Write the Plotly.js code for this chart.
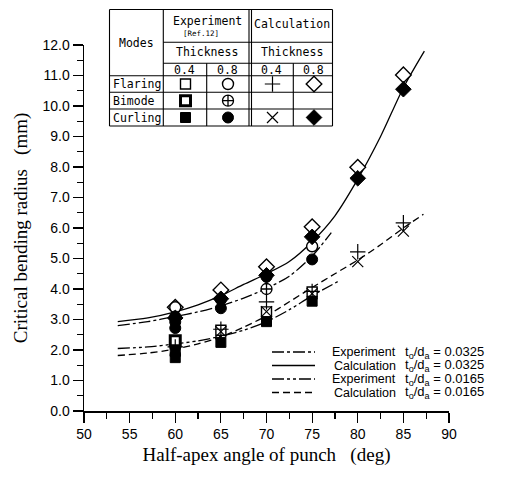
<!DOCTYPE html>
<html><head><meta charset="utf-8">
<script src="https://cdn.plot.ly/plotly-3.0.1.min.js"></script>
<style>html,body{margin:0;padding:0;background:#fff}</style>
</head><body><div id="chart" style="width:506px;height:477px"></div>
<script>
// ---------------- DATA ----------------
// Curves
const xCalc0325 = [53.7, 57, 60, 62.5, 65, 67.5, 70, 72.5, 75, 77.5, 80, 82.5, 85, 87.3];
const yCalc0325 = [2.93, 3.05, 3.25, 3.48, 3.78, 4.15, 4.5, 4.9, 5.55, 6.4, 7.6, 9.0, 10.6, 11.8];
const xExp0325 = [53.7, 57, 60, 62.5, 65, 67.5, 70, 72.5, 75, 77.1];
const yExp0325 = [2.8, 2.93, 3.1, 3.25, 3.45, 3.7, 4.02, 4.42, 5.08, 5.85];
const xExp0165 = [53.7, 57, 60, 62.5, 65, 67.5, 70, 72.5, 75, 77.8];
const yExp0165 = [2.05, 2.1, 2.2, 2.3, 2.45, 2.65, 2.93, 3.32, 3.78, 4.24];
const xCalc0165 = [53.7, 57, 60, 62.5, 65, 67.5, 70, 72.5, 75, 77.5, 80, 82.5, 85, 87.2];
const yCalc0165 = [1.82, 1.9, 2.03, 2.2, 2.43, 2.75, 3.12, 3.58, 4.05, 4.5, 4.95, 5.45, 6.0, 6.45];

// Experiment points
const xExpFlaring04 = [60, 65, 70, 75];
const yExpFlaring04 = [2.2, 2.65, 3.25, 3.9];
const xExpFlaring08 = [60, 75];
const yExpFlaring08 = [3.4, 5.4];
const xExpBimode04 = [60];
const yExpBimode04 = [2.3];
const xExpBimode08 = [70];
const yExpBimode08 = [4.0];
const xExpCurling04 = [60, 60, 65, 70, 75];
const yExpCurling04 = [1.75, 1.95, 2.25, 2.93, 3.6];
const xExpCurling08 = [60, 60, 60, 65, 65, 70, 75];
const yExpCurling08 = [2.72, 2.92, 3.1, 3.37, 3.65, 4.4, 4.97];

// Calculation points
const xCalcFlaring04 = [60, 65, 70, 75, 80, 85];
const yCalcFlaring04 = [2.1, 2.68, 3.58, 3.92, 5.22, 6.17];
const xCalcFlaring08 = [60, 65, 70, 75, 80, 85];
const yCalcFlaring08 = [3.4, 3.97, 4.73, 6.04, 7.99, 11.02];
const xCalcCurling04 = [60, 65, 70, 75, 80, 85];
const yCalcCurling04 = [2.0, 2.6, 3.26, 3.85, 4.9, 5.9];
const xCalcCurling08 = [60, 65, 70, 75, 80, 85];
const yCalcCurling08 = [3.05, 3.68, 4.45, 5.71, 7.63, 10.55];

// Text
const xTitle = 'Half-apex angle of punch\u00A0\u00A0\u00A0(deg)';
const yTitle = 'Critical bending radius\u00A0\u00A0\u00A0(mm)';
const legendNames = ['Experiment', 'Calculation', 'Experiment', 'Calculation'];
const legendRatios = ['0.0325', '0.0325', '0.0165', '0.0165'];
const ratioLabel = 't<sub>o</sub>/d<sub>a</sub> = ';
const tableModes = ['Flaring', 'Bimode', 'Curling'];
const tableThick = ['0.4', '0.8', '0.4', '0.8'];

// ---------------- LAYOUT HELPERS ----------------
const L = 84, R = 449, T = 45, B = 411;
const px = x => (x - L) / (R - L);
const py = y => (B - y) / (B - T);

const dashExp0325 = '12px,3px,3px,3px';
const dashExp0165 = '12px,3px,3px,3px,3px,3px';
const dashCalc0165 = '7px,4px';

const traces = [];
function curve(x, y, dash) {
  traces.push({x, y, type: 'scatter', mode: 'lines', line: {color: 'black', width: 1.3, dash, shape: 'spline', smoothing: 0.8}, hoverinfo: 'skip', showlegend: false});
}
curve(xCalc0325, yCalc0325, 'solid');
curve(xExp0325, yExp0325, dashExp0325);
curve(xExp0165, yExp0165, dashExp0165);
curve(xCalc0165, yCalc0165, dashCalc0165);

const sty = {
  sqOpen: {symbol: 'square', size: 10, color: 'white', line: {color: 'black', width: 1.4}},
  ciOpen: {symbol: 'circle', size: 11, color: 'white', line: {color: 'black', width: 1.4}},
  sqBi:   {symbol: 'square', size: 10, color: 'white', line: {color: 'black', width: 3}},
  ciBi:   {symbol: 'circle-cross', size: 11, color: 'white', line: {color: 'black', width: 1.3}},
  sqFill: {symbol: 'square', size: 10, color: 'black', line: {color: 'black', width: 1}},
  ciFill: {symbol: 'circle', size: 11, color: 'black', line: {color: 'black', width: 1}},
  plus:   {symbol: 'cross-thin-open', size: 11, color: 'black', line: {color: 'black', width: 1.2}},
  dmOpen: {symbol: 'diamond', size: 12, color: 'white', line: {color: 'black', width: 1.4}},
  cross:  {symbol: 'x-thin-open', size: 11, color: 'black', line: {color: 'black', width: 1.2}},
  dmFill: {symbol: 'diamond', size: 12, color: 'black', line: {color: 'black', width: 1}}
};
function pts(x, y, m, xa, ya) {
  traces.push({x, y, type: 'scatter', mode: 'markers', marker: m, xaxis: xa || 'x', yaxis: ya || 'y', hoverinfo: 'skip', showlegend: false, cliponaxis: false});
}
pts(xCalcFlaring08, yCalcFlaring08, sty.dmOpen);
pts(xExpFlaring08, yExpFlaring08, sty.ciOpen);
pts(xExpCurling08, yExpCurling08, sty.ciFill);
pts(xCalcCurling08, yCalcCurling08, sty.dmFill);
pts(xExpBimode08, yExpBimode08, sty.ciBi);
pts(xExpFlaring04, yExpFlaring04, sty.sqOpen);
pts(xExpCurling04, yExpCurling04, sty.sqFill);
pts(xExpBimode04, yExpBimode04, sty.sqBi);
pts(xCalcFlaring04, yCalcFlaring04, sty.plus);
pts(xCalcCurling04, yCalcCurling04, sty.cross);

// ---------------- TABLE (key) ----------------
const colX = [185.5, 228, 272.5, 314];
const rowY = [84, 100.7, 117.5];
const tableKeys = [
  [sty.sqOpen, sty.ciOpen, sty.plus, sty.dmOpen],
  [sty.sqBi, sty.ciBi, null, null],
  [sty.sqFill, sty.ciFill, sty.cross, sty.dmFill]
];
tableKeys.forEach((row, r) => row.forEach((m, c) => {
  if (m) pts([colX[c]], [rowY[r]], m, 'x2', 'y2');
}));

const shapes = [];
function seg(x0, y0, x1, y1, w, dash) {
  shapes.push({type: 'line', xref: 'paper', yref: 'paper', x0: px(x0), x1: px(x1), y0: py(y0), y1: py(y1), line: {color: 'black', width: w || 1.1, dash: dash || 'solid'}});
}
const tL = 109.5, tR = 332.5, tT = 9.5, tB = 126;
seg(tL, tT, tR, tT); seg(tL, tB, tR, tB); seg(tL, tT, tL, tB); seg(tR, tT, tR, tB);
seg(163.3, 42.3, tR, 42.3); seg(163.3, 63.3, tR, 63.3);
seg(tL, 75.7, tR, 75.7); seg(tL, 92.3, tR, 92.3); seg(tL, 109, tR, 109);
seg(163.3, tT, 163.3, tB);
seg(206.7, 63.3, 206.7, tB);
seg(249, tT, 249, tB); seg(251.5, tT, 251.5, tB);
seg(293.3, 63.3, 293.3, tB);

const annotations = [];
const tFont = {family: 'DejaVu Sans Mono', size: 11.5, color: 'black'};
function txt(x, y, text, font, xanchor) {
  annotations.push({xref: 'paper', yref: 'paper', x: px(x), y: py(y), text, showarrow: false, font: font || tFont, xanchor: xanchor || 'center', yanchor: 'middle', borderpad: 0});
}
txt(136.5, 42.7, 'Modes');
txt(207, 21, 'Experiment');
txt(201, 33.5, '[Ref.12]', {family: 'DejaVu Sans Mono', size: 7.5, color: 'black'});
txt(292, 24, 'Calculation');
txt(207, 52, 'Thickness');
txt(292, 52, 'Thickness');
tableThick.forEach((t, i) => txt(colX[i] - 1, 69.5, t));
tableModes.forEach((t, i) => txt(112, rowY[i], t, tFont, 'left'));

// ---------------- LINE LEGEND ----------------
const legY = [352, 365.5, 379, 392.5];
const legDash = [dashExp0325, 'solid', dashExp0165, dashCalc0165];
const lFont = {family: 'Liberation Sans', size: 12.5, color: 'black'};
const rFont = {family: 'Liberation Sans', size: 13, color: 'black'};
legY.forEach((y, i) => {
  seg(272, y, 315, y, 1.3, legDash[i]);
  txt(397, y, legendNames[i], lFont, 'right');
  txt(404, y, ratioLabel + legendRatios[i], rFont, 'left');
});

const layout = {
  width: 506, height: 477,
  margin: {l: L, r: 506 - R, t: T, b: 477 - B, pad: 0},
  paper_bgcolor: 'white', plot_bgcolor: 'white',
  showlegend: false,
  font: {family: 'Liberation Sans', color: 'black'},
  xaxis: {
    range: [50, 90], dtick: 5, tick0: 50, ticks: 'outside', ticklen: 10, tickwidth: 1.2, tickcolor: 'black',
    minor: {dtick: 2.5, ticks: 'outside', ticklen: 6, tickwidth: 1.2, tickcolor: 'black', showgrid: false},
    showline: true, linewidth: 1.5, linecolor: 'black', showgrid: false, zeroline: false,
    tickfont: {family: 'Liberation Sans', size: 14, color: 'black'},
    title: {text: xTitle, font: {family: 'Liberation Serif', size: 19, color: 'black'}, standoff: 6}
  },
  yaxis: {
    range: [0, 12], dtick: 1, tick0: 0, tickformat: '.1f', ticks: 'outside', ticklen: 10, tickwidth: 1.2, tickcolor: 'black',
    minor: {dtick: 0.5, ticks: 'outside', ticklen: 6, tickwidth: 1.2, tickcolor: 'black', showgrid: false},
    showline: true, linewidth: 1.5, linecolor: 'black', showgrid: false, zeroline: false,
    tickfont: {family: 'Liberation Sans', size: 14, color: 'black'},
    title: {text: yTitle, font: {family: 'Liberation Serif', size: 19, color: 'black'}, standoff: 10}
  },
  xaxis2: {overlaying: 'x', anchor: 'y2', range: [L, R], visible: false, fixedrange: true},
  yaxis2: {overlaying: 'y', anchor: 'x2', range: [B, T], visible: false, fixedrange: true},
  shapes, annotations
};

Plotly.newPlot('chart', traces, layout, {staticPlot: true, displayModeBar: false});
</script></body></html>
